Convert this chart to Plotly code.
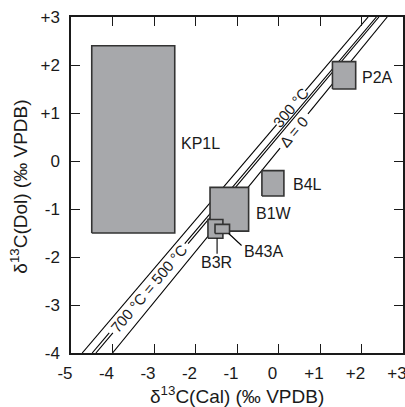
import plotly.graph_objects as go

# ---- data ----
box_names = ["KP1L", "P2A", "B4L", "B1W", "B3R", "B43A"]
box_x0 = [-4.50, 1.30, -0.40, -1.65, -1.70, -1.53]
box_x1 = [-2.50, 1.86, 0.13, -0.72, -1.34, -1.18]
box_y0 = [-1.50, 1.50, -0.73, -1.46, -1.61, -1.51]
box_y1 = [2.40, 2.07, -0.20, -0.55, -1.22, -1.32]

label_x = [-2.40, 1.97, 0.29, -0.60, -1.49, -0.89]
label_y = [0.37, 1.75, -0.48, -1.09, -2.11, -1.88]
label_anchor = ["left", "left", "left", "left", "center", "left"]

# leader lines (B3R, B43A)
leader_x0 = [-1.48, -1.20]
leader_y0 = [-1.61, -1.51]
leader_x1 = [-1.48, -0.89]
leader_y1 = [-1.93, -1.76]

# isotherm lines: x position at bottom (y=-4) and top (y=+3)
line_x_bottom = [-4.73, -4.49, -4.40, -4.00]
line_x_top = [2.16, 2.36, 2.42, 2.62]
line_y_bottom = -4.0
line_y_top = 3.0
# gaps left for the labels (y range)
gap_lo = [0.76, -3.58, -3.58, 0.27]
gap_hi = [1.46, -1.72, -1.72, 0.98]

line_label_text = ["300 °C", "700 °C = 500 °C", "Δ = 0"]
line_label_line = [0, 1.5, 3]   # which line the label sits on
line_label_y = [1.11, -2.65, 0.62]

x_ticks = [-5, -4, -3, -2, -1, 0, 1, 2, 3]
x_tick_text = ["-5", "-4", "-3", "-2", "-1", "0", "+1", "+2", "+3"]
y_ticks = [-4, -3, -2, -1, 0, 1, 2, 3]
y_tick_text = ["-4", "-3", "-2", "-1", "0", "+1", "+2", "+3"]

FONT = "Liberation Sans, Arial, Helvetica, sans-serif"


def line_x(i, y):
    # linear interpolation along line i (i may be fractional between two lines)
    if i != int(i):
        a, b = int(i), int(i) + 1
        return 0.5 * (line_x(a, y) + line_x(b, y))
    i = int(i)
    xb, xt = line_x_bottom[i], line_x_top[i]
    return xb + (y - line_y_bottom) / (line_y_top - line_y_bottom) * (xt - xb)


fig = go.Figure()

# isotherm lines with gaps
for i in range(len(line_x_bottom)):
    ys = [line_y_bottom, gap_lo[i], None, gap_hi[i], line_y_top]
    xs = [line_x(i, y) if y is not None else None for y in ys]
    fig.add_trace(go.Scatter(x=xs, y=ys, mode="lines",
                             line=dict(color="black", width=1.1),
                             hoverinfo="skip", showlegend=False))

# boxes (order: KP1L, P2A, B4L, B1W, B3R, B43A)
for i in range(len(box_names)):
    xs = [box_x0[i], box_x1[i], box_x1[i], box_x0[i], box_x0[i]]
    ys = [box_y0[i], box_y0[i], box_y1[i], box_y1[i], box_y0[i]]
    fig.add_trace(go.Scatter(x=xs, y=ys, mode="lines", fill="toself",
                             fillcolor="#a7a8ab",
                             line=dict(color="#333333", width=1.6),
                             hoverinfo="skip", showlegend=False))

# leader lines
for i in range(len(leader_x0)):
    fig.add_trace(go.Scatter(x=[leader_x0[i], leader_x1[i]],
                             y=[leader_y0[i], leader_y1[i]], mode="lines",
                             line=dict(color="black", width=1.1),
                             hoverinfo="skip", showlegend=False))

annotations = []
for i in range(len(box_names)):
    annotations.append(dict(x=label_x[i], y=label_y[i], xref="x", yref="y",
                            text=box_names[i], showarrow=False,
                            xanchor=label_anchor[i], yanchor="middle",
                            font=dict(family=FONT, size=16, color="#1a1a1a")))

for t, li, ly in zip(line_label_text, line_label_line, line_label_y):
    annotations.append(dict(x=line_x(li, ly), y=ly, xref="x", yref="y",
                            text=t, showarrow=False, textangle=-50,
                            xanchor="center", yanchor="middle",
                            font=dict(family=FONT, size=15, color="#1a1a1a")))

# axis titles
annotations.append(dict(x=0.5, y=0, xref="paper", yref="paper", yshift=-42,
                        text="δ<sup>13</sup>C(Cal) (‰ VPDB)", showarrow=False,
                        xanchor="center", yanchor="middle",
                        font=dict(family=FONT, size=19, color="#1a1a1a")))
annotations.append(dict(x=0, y=0.495, xref="paper", yref="paper", xshift=-52,
                        text="δ<sup>13</sup>C(Dol) (‰ VPDB)", showarrow=False,
                        textangle=-90, xanchor="center", yanchor="middle",
                        font=dict(family=FONT, size=19, color="#1a1a1a")))

axis_common = dict(showgrid=False, zeroline=False, showline=True,
                   linecolor="#1a1a1a", linewidth=1.5, mirror="ticks",
                   ticks="inside", ticklen=9, tickwidth=1.2, tickcolor="#1a1a1a",
                   ticklabeloverflow="allow",
                   tickfont=dict(family=FONT, size=17, color="#1a1a1a"))

fig.update_layout(
    width=407, height=407,
    margin=dict(l=71, r=0, t=17, b=54),
    paper_bgcolor="white", plot_bgcolor="white",
    xaxis=dict(range=[-5, 3], tickvals=x_ticks, ticktext=x_tick_text,
               ticklabelshift=-6, ticklabelstandoff=4, **axis_common),
    yaxis=dict(range=[-4, 3], tickvals=y_ticks, ticktext=y_tick_text,
               ticklabelstandoff=6, **axis_common),
    annotations=annotations,
    showlegend=False,
)

fig.write_html("out.html",
               post_script="document.documentElement.style.overflow='hidden';"
                           "document.body.style.overflow='hidden';document.body.style.margin='0';")
